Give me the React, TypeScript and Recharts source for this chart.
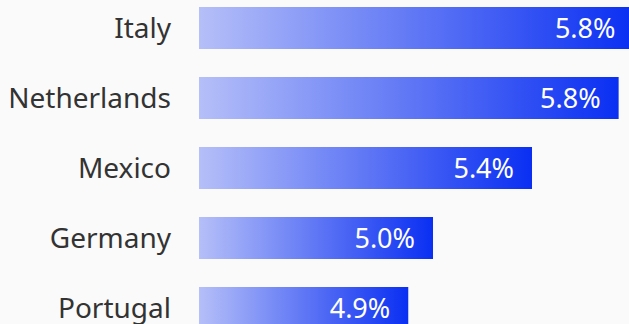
import React from 'react';
import { BarChart, Bar, XAxis, YAxis, LabelList } from 'recharts';

const countries = ['Italy', 'Netherlands', 'Mexico', 'Germany', 'Portugal'];
const shares = [5.81, 5.75, 5.4, 5.0, 4.9];
const shareLabels = ['5.8%', '5.8%', '5.4%', '5.0%', '4.9%'];

const data = countries.map((name, i) => ({ name, value: shares[i], label: shareLabels[i] }));

const FONT = '"Noto Sans", "Open Sans", sans-serif';

export default function App() {
  return (
    <div
      style={{
        position: 'fixed',
        left: 0,
        top: 0,
        width: 629,
        height: 324,
        overflow: 'hidden',
        background: '#fafafa',
      }}
    >
      <div style={{ position: 'absolute', left: 0, top: -7 }}>
        <BarChart
          width={640}
          height={350}
          data={data}
          layout="vertical"
          margin={{ top: 0, right: 0, bottom: 0, left: 0 }}
          barCategoryGap={14}
        >
          <defs>
            <linearGradient id="barFill" x1="0" y1="0" x2="1" y2="0">
              <stop offset="0%" stopColor="#b5bff8" />
              <stop offset="100%" stopColor="#0a2ff2" />
            </linearGradient>
          </defs>
          <XAxis type="number" hide domain={[4.0545, 4.0545 + 441 / 247.5]} />
          <YAxis
            type="category"
            dataKey="name"
            width={199}
            axisLine={false}
            tickLine={false}
            tickSize={0}
            tickMargin={28}
            tick={{ fill: '#333333', fontSize: 28, fontFamily: FONT }}
          />
          <Bar dataKey="value" fill="url(#barFill)" isAnimationActive={false}>
            <LabelList
              dataKey="label"
              position="insideRight"
              offset={18}
              style={{ fill: '#ffffff', fontSize: 27, fontFamily: FONT }}
            />
          </Bar>
        </BarChart>
      </div>
    </div>
  );
}
